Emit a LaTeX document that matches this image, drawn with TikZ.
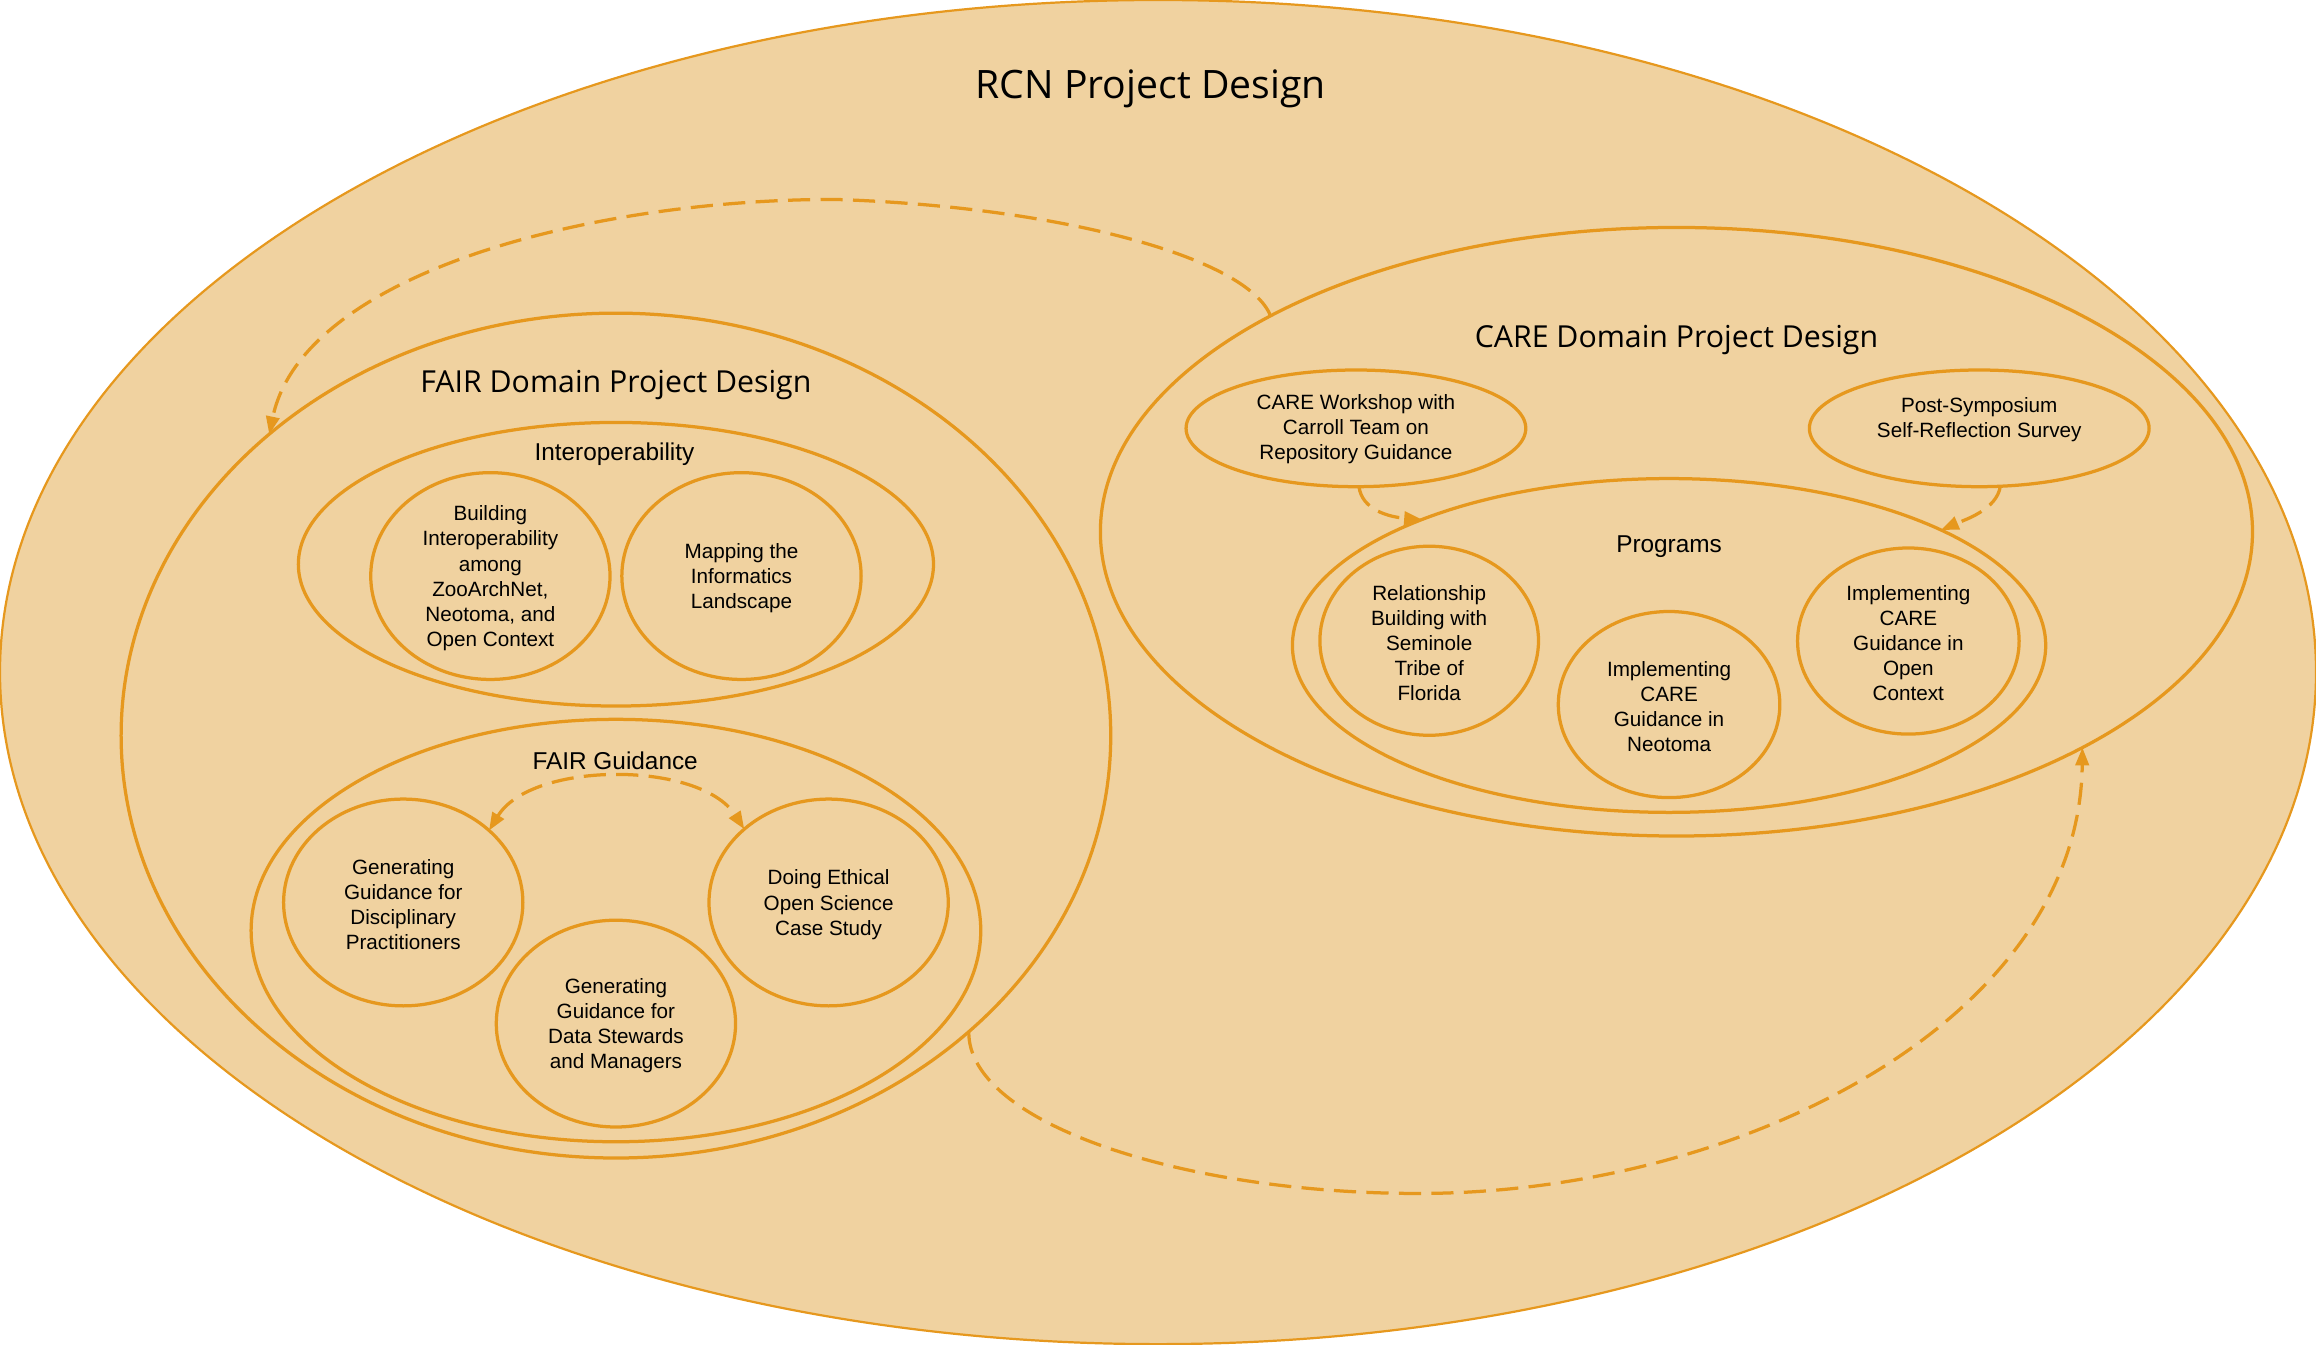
\documentclass[tikz,border=0pt]{standalone}
\usepackage{fontspec}
\setmainfont{Liberation Sans}
\newfontfamily\titlefont{Open Sans}
\usetikzlibrary{shapes.geometric,arrows.meta}
\definecolor{fillc}{RGB}{240,210,160}
\definecolor{strokec}{RGB}{230,152,30}
\begin{document}
\begin{tikzpicture}[x=1pt,y=-1pt,
  shell/.style={ellipse,draw=strokec,fill=fillc,line width=2.2pt,inner sep=0pt,outer sep=0pt},
  txt/.style={align=center,font=\fontsize{14}{17}\selectfont,text=black,inner sep=0pt,yshift=-1.5pt},
  sub/.style={font=\fontsize{16.5}{20}\selectfont,anchor=base,inner sep=0pt,text=black},
  ttl/.style={font=\titlefont\fontsize{20.5}{24}\selectfont,anchor=base,inner sep=0pt,text=black},
  link/.style={draw=strokec,line width=2.2pt,dash pattern=on 15pt off 7pt,-{Triangle[length=12pt,width=9pt]}},
  biglink/.style={link,{Triangle[length=12pt,width=9pt]}-{Triangle[length=12pt,width=9pt]}},
]
\useasboundingbox (0,0) rectangle (1568,910);
% outer
\node[shell,line width=1.5pt,minimum width=1568pt,minimum height=910pt] (rcn) at (784,455) {};
\node[ttl,font=\titlefont\fontsize{26.5}{30}\selectfont] (rcnt) at (779,66.6) {RCN Project Design};
% FAIR domain
\node[shell,minimum width=670pt,minimum height=572pt] (fair) at (417,498) {};
\node[ttl] (fairt) at (417,266) {FAIR Domain Project Design};
\node[shell,minimum width=430pt,minimum height=192pt] (inter) at (417,382) {};
\node[sub] (intert) at (416,312) {Interoperability};
\node[shell,minimum width=162pt,minimum height=140pt] (build) at (332,390) {};
\node[txt] (buildt) at (build) {Building\\Interoperability\\among\\ZooArchNet,\\Neotoma, and\\Open Context};
\node[shell,minimum width=162pt,minimum height=140pt] (map) at (502,390) {};
\node[txt] (mapt) at (map) {Mapping the\\Informatics\\Landscape};
\node[shell,minimum width=494pt,minimum height=286pt] (guid) at (417,630) {};
\node[sub] (guidt) at (416.5,521) {FAIR Guidance};
\node[shell,minimum width=162pt,minimum height=140pt] (gdp) at (273,611) {};
\node[txt] (gdpt) at (gdp) {Generating\\Guidance for\\Disciplinary\\Practitioners};
\node[shell,minimum width=162pt,minimum height=140pt] (doe) at (561,611) {};
\node[txt] (doet) at (doe) {Doing Ethical\\Open Science\\Case Study};
\node[shell,minimum width=162pt,minimum height=140pt] (gds) at (417,693) {};
\node[txt] (gdst) at (gds) {Generating\\Guidance for\\Data Stewards\\and Managers};
% CARE domain
\node[shell,minimum width=780pt,minimum height=412pt] (care) at (1135,360) {};
\node[ttl] (caret) at (1135,235) {CARE Domain Project Design};
\node[shell,minimum width=230pt,minimum height=79pt] (work) at (918,290) {};
\node[txt] (workt) at (918,289) {CARE Workshop with\\Carroll Team on\\Repository Guidance};
\node[shell,minimum width=230pt,minimum height=79pt] (post) at (1340,290) {};
\node[txt] (postt) at (1340,282.5) {Post-Symposium\\Self-Reflection Survey};
\node[shell,minimum width=510pt,minimum height=226pt] (prog) at (1130,437) {};
\node[sub] (progt) at (1130,374) {Programs};
\node[shell,minimum width=148pt,minimum height=128pt] (rel) at (967.6,433.8) {};
\node[txt] (relt) at (rel) {Relationship\\Building with\\Seminole\\Tribe of\\Florida};
\node[shell,minimum width=150pt,minimum height=126pt] (neo) at (1130,477) {};
\node[txt] (neot) at (neo) {Implementing\\CARE\\Guidance in\\Neotoma};
\node[shell,minimum width=150pt,minimum height=126pt] (opc) at (1292,434) {};
\node[txt] (opct) at (opc) {Implementing\\CARE\\Guidance in\\Open\\Context};
% connectors
\draw[link] (care.152) .. controls (845,175) and (720,140) .. (565,135)
  .. controls (400,135) and (205,185) .. (fair.139.3);
\draw[link] (fair.-40.3) .. controls (655,760) and (800,808) .. (960,808)
  .. controls (1180,808) and (1408,690) .. (care.-28);
\draw[biglink] (gdp.40.8) .. controls (360,515) and (474,515) .. (doe.139.2);
\draw[link] (work.-87) .. controls (922,345) and (940,350) .. (prog.153.7);
\draw[link] (post.-70) .. controls (1352,345) and (1330,352) .. (prog.23.8);
\end{tikzpicture}
\end{document}
